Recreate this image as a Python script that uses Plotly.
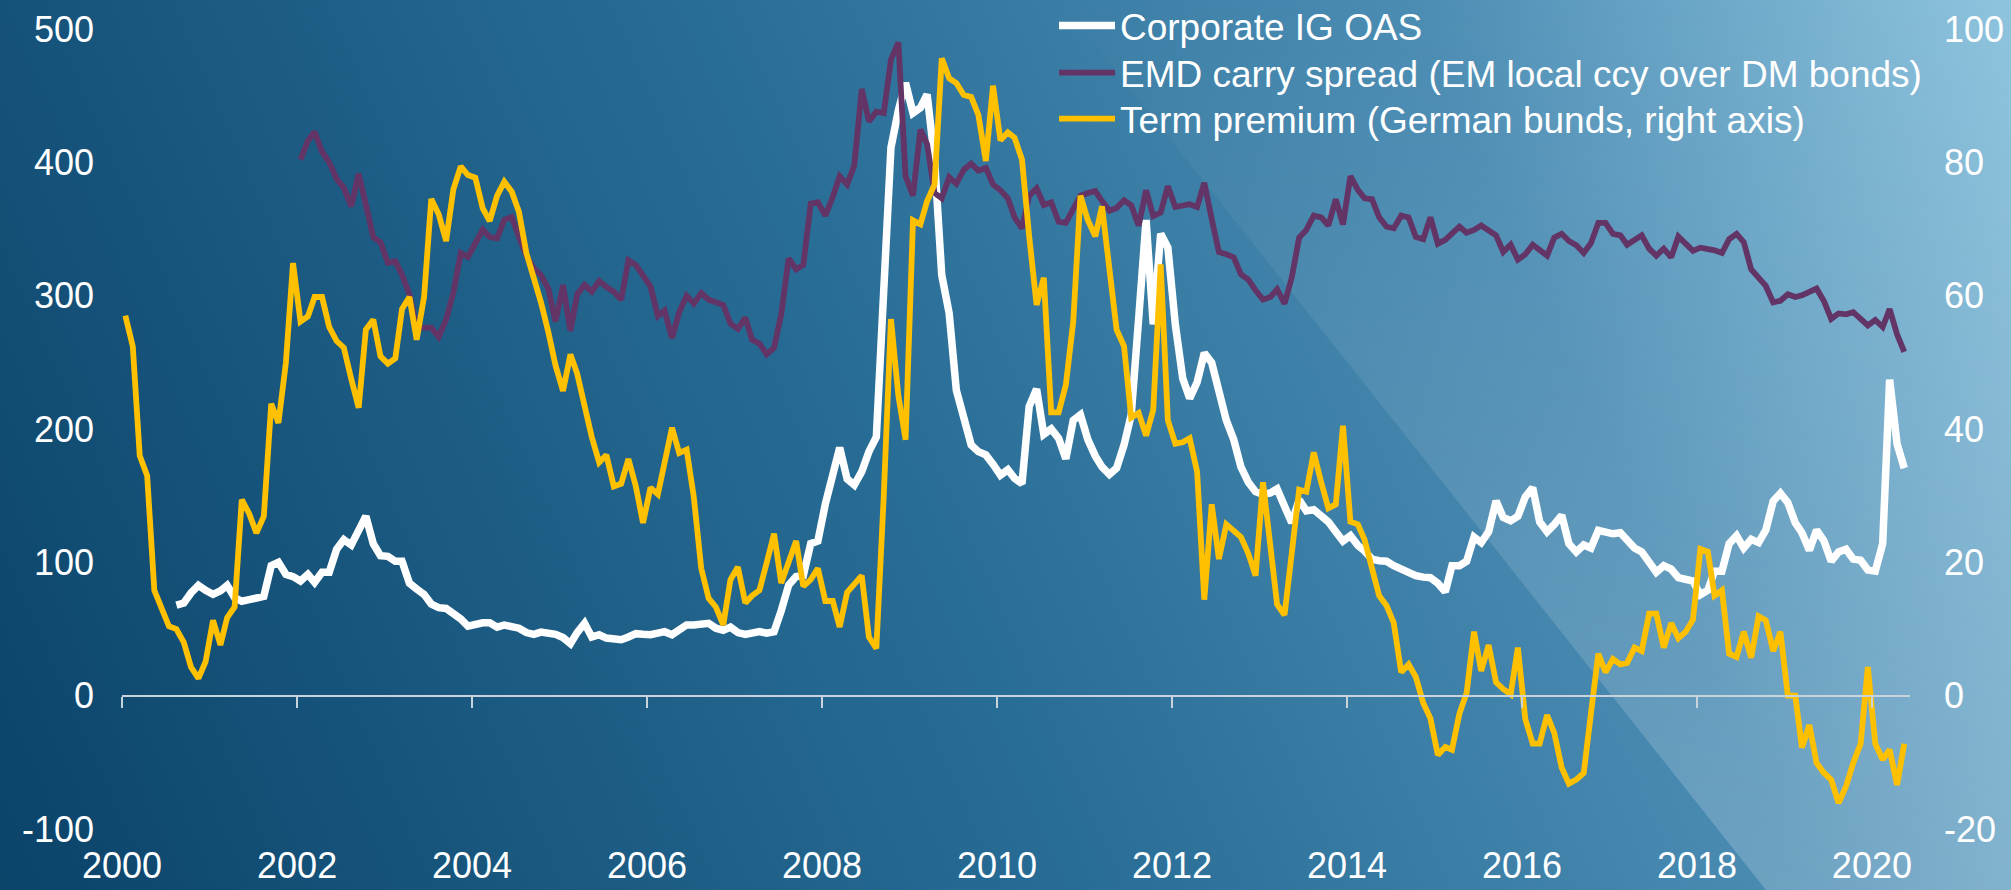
import base64
import plotly.graph_objects as go

# ---------------- data (monthly, Jan 2000 .. May 2020) ----------------
N = 245
dates = [f"{2000 + k // 12}-{k % 12 + 1:02d}-15" for k in range(N)]

corporate_ig_oas = [None] * 7 + [
    67.9, 69.5, 77,
    82.7, 79, 76, 78.6, 82.7, 73.6, 70.8, 72, 73.6, 74.5,
    97.5, 100, 91, 89.3, 86, 91, 85, 92.6, 92.6, 109.8,
    117, 113, 124, 134.5, 114, 105, 104.5, 100.8, 100.8, 84.3,
    80, 76, 68.7, 66, 65.4, 61.7, 57.6, 52.2, 53.9, 54.7,
    54.7, 51.4, 53, 52.2, 50.6, 47.3, 46, 47.7, 46.9, 46,
    43.6, 39, 47.3, 54.3, 44, 45.7, 43.2, 42.8, 42, 44,
    46.5, 46, 45.7, 46.9, 48, 45.7, 49, 53, 53, 53,
    54.3, 50.6, 49, 51.4, 47.3, 46, 46.9, 48, 46.9, 48,
    63.8, 83, 89.3, 90, 114, 116, 143.6, 165, 186, 162.5,
    158, 168, 183, 194, 300, 411, 439, 459.5, 437, 441,
    451, 402, 315.5, 286.7, 229, 206.5, 188, 183, 180.6, 173.6,
    165.4, 169.5, 163, 159, 217, 230, 196, 200, 193, 177.7,
    206.5, 210.6, 192, 179.8, 171.6, 166, 170.7, 188, 210.6, 282.6,
    356.7, 278.5, 346.4, 336, 278.5, 238, 223, 235, 257, 249.7,
    229, 206.5, 192, 171.6, 160, 153, 151, 152, 155, 140.7,
    129.6, 146.9, 138.6, 139.5, 135.3, 130.4, 123, 116, 120, 112.7,
    108.6, 102.4, 101.2, 100.8, 97.5, 95, 91.7, 90, 88.9, 88.5,
    84.3, 77.8, 97.5, 97.5, 100.8, 119, 114.8, 123, 146, 133.7,
    131.2, 134.5, 149, 156, 130.4, 123, 128.4, 135.3, 114, 107.8,
    113, 110.7, 124, 123, 121.4, 122.2, 116, 110.7, 107.8, 100.8,
    92.6, 97.5, 95, 88.5, 87.2, 86, 75.7, 79, 93.4, 93.4,
    114, 120, 110.7, 117.2, 114.8, 124.2, 146, 151.8, 144.8, 129.6,
    122.2, 109, 124.2, 116, 100.8, 107.8, 109.8, 102.4, 101.6, 94.2,
    93.4, 114, 237, 188.8, 170.7,
]

emd_carry_spread = [None] * 24 + [
    402, 416, 423, 408, 400, 387.5,
    381, 367, 391.6, 370, 344, 340, 324.6, 325.8, 315.5, 301,
    276, 276, 276, 269, 282, 302, 332, 329, 340, 349.5,
    344, 343, 357, 359, 344, 330, 320.5, 315.5, 305, 280.6,
    308, 273.6, 301, 308, 303, 311, 306.5, 303, 297, 326.6,
    323, 314.7, 307, 284.7, 288.8, 268, 287.6, 300, 294, 302,
    297, 295, 293, 279, 275, 283.5, 267, 264, 256, 261,
    286, 328, 319.7, 323, 369, 370, 360, 374, 389.6, 383.4,
    397.8, 455, 430.7, 438, 437, 477, 490, 389.6, 375, 424.6,
    413.5, 377, 373, 388.8, 384, 394.5, 399, 393.7, 395.8, 383.4,
    379, 373, 358.7, 350.5, 375, 380.5, 368, 370, 355.5, 354.6,
    364, 375, 377, 378.5, 371, 363.7, 365.7, 371.5, 367.8, 352.6,
    379, 359.6, 362.4, 382, 366.5, 367.8, 368.6, 366.5, 384.7, 357.5,
    332.8, 331, 328.7, 316, 312, 304, 297, 299, 304.8, 294,
    313.5, 343.5, 349.3, 360, 358.7, 352.6, 372.3, 353.4, 389.6, 379.3,
    373, 372.3, 358.7, 351.7, 350.5, 360, 358.7, 344, 342.3, 358.7,
    339, 341.9, 347.2, 351.7, 347.2, 349.3, 352.6, 349.3, 345.2, 332.8,
    338.2, 327, 331, 338.2, 334, 330, 343.5, 346.4, 341, 337.8,
    332, 339.4, 354.6, 354.6, 346.4, 345.2, 338.2, 342.3, 345.2, 335.3,
    330, 335.3, 328.7, 344.3, 339.4, 333.6, 336, 335.3, 334, 332,
    342.3, 346.4, 340.2, 319.7, 313.5, 307.3, 295, 296.2, 301, 299,
    300.3, 302.4, 305.3, 295.8, 282.6, 286.7, 286, 287.6, 282.6, 277.7,
    281.8, 276.5, 290, 271, 257.9,
]

term_premium = [
    57, 52.4, 36, 33, 15.8, 12.9, 10.4, 10, 8, 4.3,
    2.6, 5.1, 11.3, 7.6, 11.7, 13.3, 29.4, 27.3, 24.4, 26.9,
    43.8, 40.9, 49.9, 64.9, 56.1, 56.9, 59.8, 59.8, 55.3, 53.2,
    52.2, 47.5, 43.2, 54.9, 56.4, 50.9, 49.8, 50.6, 58, 59.8,
    53.4, 59.8, 74.5, 72.2, 68.2, 75.9, 79.4, 78.1, 77.7, 73.1,
    71.2, 75, 77.1, 75.6, 72.6, 66.4, 62.7, 59, 54.5, 49.5,
    45.7, 51.2, 48.3, 43.2, 38.8, 35, 36.1, 31.4, 31.8, 35.5,
    31.4, 25.9, 31.2, 30.2, 34.5, 40.2, 36.4, 36.9, 29.8, 19.1,
    14.6, 13.3, 10.6, 17.4, 19.3, 13.9, 15, 15.8, 19.9, 24.3,
    16.9, 19.9, 23.2, 16.4, 17.4, 19.1, 14.2, 14.2, 10.3, 15.5,
    16.9, 18, 8.8, 7.1, 30, 56.5, 45, 38.4, 71.3, 70.7,
    74.2, 76.7, 95.6, 92.6, 91.9, 90.1, 89.8, 87.1, 80.2, 91.5,
    83.3, 84.5, 83.7, 80.4, 68.9, 58.6, 62.7, 42.5, 42.5, 46.6,
    56.1, 75, 71.3, 68.9, 73.4, 64.7, 54.9, 52.4, 41.7, 42.4,
    39, 42.9, 64.7, 41.3, 37.8, 38, 38.6, 33.6, 14.4, 28.7,
    20.5, 25.7, 24.8, 23.8, 21.3, 18, 32, 23.2, 13.7, 12.1,
    22, 30.9, 30.6, 36.5, 32, 28.1, 28.7, 40.5, 26.1, 25.7,
    23.4, 19.1, 15, 13.5, 10.9, 3.5, 4.7, 2.8, -1.1, -3.4,
    -8.9, -7.7, -8.1, -2.7, 0.4, 9.6, 3.7, 7.6, 2, 1,
    0.2, 7.2, -3.5, -7.2, -7.2, -2.9, -5.6, -10.8, -13.2, -12.6,
    -11.6, -2.7, 6.3, 3.5, 5.5, 4.7, 4.9, 7.2, 6.7, 12.3,
    12.3, 7.2, 10.9, 8.6, 9.6, 11.4, 22, 21.6, 15, 15.8,
    6.3, 5.8, 9.6, 5.7, 11.9, 11.3, 6.7, 9.6, 0, 0,
    -7.8, -4.4, -10.1, -11.6, -12.6, -16.1, -13.6, -10.1, -7.2, 4.3,
    -7.2, -9.6, -8.1, -13.4, -7.2,
]

series_names = [
    "Corporate IG OAS",
    "EMD carry spread (EM local ccy over DM bonds)",
    "Term premium (German bunds, right axis)",
]

left_ticks = [-100, 0, 100, 200, 300, 400, 500]
right_ticks = [-20, 0, 20, 40, 60, 80, 100]
x_ticks = [f"{y}-01-01" for y in range(2000, 2021, 2)]
x_tick_labels = [str(y) for y in range(2000, 2021, 2)]

# ---------------- figure ----------------
W, H = 2011, 890
ML, MR, MT, MB = 122, 101, 29, 61
PW, PH = W - ML - MR, H - MT - MB
FONT = "Liberation Sans, Arial, sans-serif"
LEG_FONT = 37
legend_centres = [26, 73, 119]   # pixel rows of the three legend entries

fig = go.Figure()
fig.add_trace(go.Scatter(x=dates, y=corporate_ig_oas, name=series_names[0], mode="lines",
                         line=dict(color="#ffffff", width=7.5), yaxis="y", legend="legend"))
fig.add_trace(go.Scatter(x=dates, y=emd_carry_spread, name=series_names[1], mode="lines",
                         line=dict(color="#633466", width=5.8), yaxis="y", legend="legend2"))
fig.add_trace(go.Scatter(x=dates, y=term_premium, name=series_names[2], mode="lines",
                         line=dict(color="#ffc000", width=5.8), yaxis="y2", legend="legend3"))

svg = f'''<svg xmlns="http://www.w3.org/2000/svg" width="{W}" height="{H}" viewBox="0 0 {W} {H}" preserveAspectRatio="none">
<defs>
<linearGradient id="g" gradientUnits="userSpaceOnUse" x1="0" y1="{H}" x2="{W}" y2="0">
<stop offset="0" stop-color="#0b4369"/>
<stop offset="0.45" stop-color="#286d96"/>
<stop offset="0.75" stop-color="#4b8cb3"/>
<stop offset="1" stop-color="#8fc4de"/>
</linearGradient>
<linearGradient id="o" x1="0" y1="0" x2="0" y2="1">
<stop offset="0" stop-color="#ffffff" stop-opacity="0"/>
<stop offset="1" stop-color="#ffffff" stop-opacity="0.2"/>
</linearGradient>
</defs>
<rect width="{W}" height="{H}" fill="url(#g)"/>
<polygon points="1060,0 {W},0 {W},{H} 1766,{H}" fill="url(#o)"/>
</svg>'''
src = "data:image/svg+xml;base64," + base64.b64encode(svg.encode()).decode()


def legend_box(row):
    return dict(xref="container", yref="container",
                x=1054 / W, xanchor="left", y=1 - row / H, yanchor="middle",
                bgcolor="rgba(0,0,0,0)", font=dict(size=LEG_FONT, color="#ffffff"),
                itemwidth=56, borderwidth=0)


fig.update_layout(
    width=W, height=H,
    autosize=False,
    margin=dict(l=ML, r=MR, t=MT, b=MB, pad=0, autoexpand=False),
    paper_bgcolor="#1d5c85",
    plot_bgcolor="rgba(0,0,0,0)",
    font=dict(family=FONT, size=36, color="#ffffff"),
    images=[dict(source=src, xref="paper", yref="paper",
                 x=-ML / PW, y=1 + MT / PH, sizex=W / PW, sizey=H / PH,
                 sizing="stretch", xanchor="left", yanchor="top", layer="below")],
    showlegend=True,
    legend=legend_box(legend_centres[0]),
    legend2=legend_box(legend_centres[1]),
    legend3=legend_box(legend_centres[2]),
    xaxis=dict(type="date", range=["2000-01-01", "2020-06-08"],
               anchor="free", position=(829 - 696) / PH, automargin=False,
               showgrid=False, zeroline=False,
               showline=True, linecolor="#c9d3dc", linewidth=2,
               ticks="outside", ticklen=11, tickwidth=2, tickcolor="#c9d3dc",
               tickvals=x_ticks, ticktext=x_tick_labels,
               ticklabelstandoff=127,
               tickfont=dict(size=36, color="#ffffff")),
    yaxis=dict(range=[-100, 500], tickvals=left_ticks, ticktext=[str(v) for v in left_ticks],
               automargin=False,
               showgrid=False, zeroline=False, showline=False, ticks="",
               ticklabelstandoff=27, tickfont=dict(size=36, color="#ffffff")),
    yaxis2=dict(range=[-20, 100], tickvals=right_ticks, ticktext=[str(v) for v in right_ticks],
                overlaying="y", side="right", anchor="x", automargin=False,
                showgrid=False, zeroline=False, showline=False, ticks="",
                ticklabelstandoff=33, tickfont=dict(size=36, color="#ffffff")),
)

fig.write_html(
    "out.html",
    config={"displayModeBar": False},
    post_script="document.body.style.margin='0';document.body.style.overflow='hidden';",
)
